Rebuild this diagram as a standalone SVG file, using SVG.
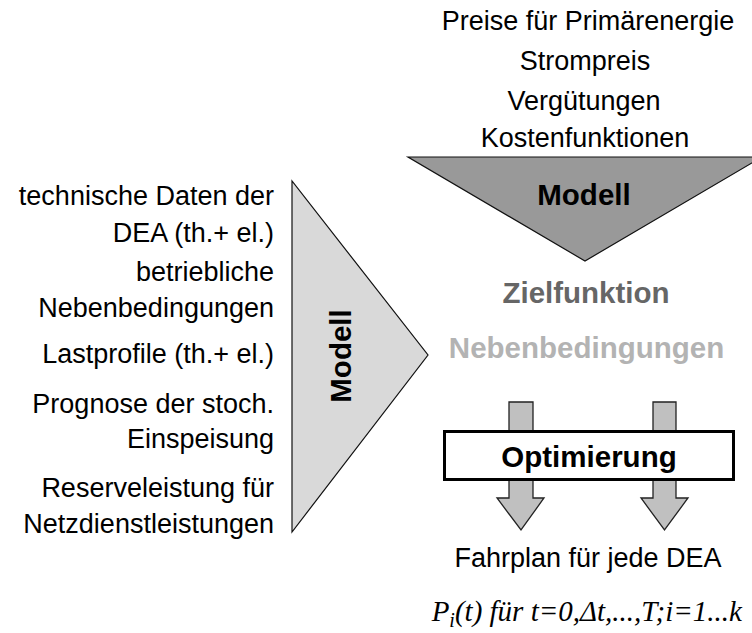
<svg xmlns="http://www.w3.org/2000/svg" width="752" height="633" viewBox="0 0 752 633">
  <style>
    .txt { font-family: "Liberation Sans", Arial, sans-serif; font-size: 27px; fill: #000; }
    .bold { font-family: "Liberation Sans", Arial, sans-serif; font-weight: bold; font-size: 29.5px; }
    .formula { font-family: "Liberation Serif", "Times New Roman", serif; font-style: italic; font-size: 29px; fill: #000; }
    .arrow { fill: #c0c0c0; stroke: #222; stroke-width: 1.3; stroke-linejoin: miter; }
  </style>
  <rect width="752" height="633" fill="#fff"/>

  <!-- economic inputs -->
  <g id="inputs-economic" class="txt" text-anchor="middle">
    <text x="588" y="30">Preise für Primärenergie</text>
    <text x="585" y="70">Strompreis</text>
    <text x="584" y="110">Vergütungen</text>
    <text x="585" y="147">Kostenfunktionen</text>
  </g>

  <!-- technical inputs -->
  <g id="inputs-technical" class="txt" text-anchor="end">
    <text x="274" y="205">technische Daten der</text>
    <text x="274" y="242">DEA (th.+ el.)</text>
    <text x="274" y="281">betriebliche</text>
    <text x="274" y="317">Nebenbedingungen</text>
    <text x="274" y="363">Lastprofile (th.+ el.)</text>
    <text x="274" y="413">Prognose der stoch.</text>
    <text x="274" y="448">Einspeisung</text>
    <text x="274" y="497">Reserveleistung für</text>
    <text x="274" y="533">Netzdienstleistungen</text>
  </g>

  <!-- connectors: flow arrows through the optimisation -->
  <g id="connectors">
    <polygon class="arrow" points="509,402 533,402 533,498 544,498 521,530 497,498 509,498"/>
    <polygon class="arrow" points="653,402 676,402 676,498 688,498 664.5,530 641,498 653,498"/>
  </g>

  <!-- model of cost side -->
  <g id="model-top">
    <polygon points="408,157 762,157 585,261" fill="#999999" stroke="#111" stroke-width="1.2"/>
    <text class="bold" x="584" y="205" text-anchor="middle" fill="#000">Modell</text>
  </g>

  <!-- model of plant side -->
  <g id="model-left">
    <polygon points="292,181 292,532 428,355" fill="#d9d9d9" stroke="#111" stroke-width="1.2"/>
    <text class="bold" transform="translate(351,356) rotate(-90)" text-anchor="middle" fill="#000">Modell</text>
  </g>

  <g id="objective">
    <text class="bold" x="586" y="303" text-anchor="middle" fill="#666666">Zielfunktion</text>
  </g>

  <g id="constraints">
    <text class="bold" x="586.5" y="358" text-anchor="middle" fill="#b3b3b3">Nebenbedingungen</text>
  </g>

  <g id="optimization">
    <rect x="444.5" y="431.5" width="289" height="48" fill="#fff" stroke="#000" stroke-width="3"/>
    <text class="bold" x="589" y="467" text-anchor="middle" fill="#000" font-size="30">Optimierung</text>
  </g>

  <g id="schedule">
    <text class="txt" x="588" y="567" text-anchor="middle">Fahrplan für jede DEA</text>
    <text class="formula" x="742" y="621" text-anchor="end">P<tspan font-size="20" dy="6">i</tspan><tspan dy="-6">(t) für t=0,Δt,...,T;i=1...k</tspan></text>
  </g>
</svg>
